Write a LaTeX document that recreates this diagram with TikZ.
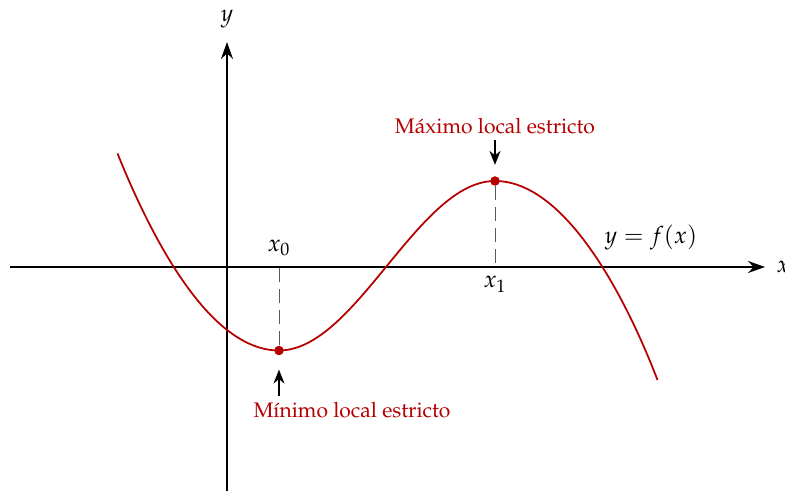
\documentclass[tikz,border=0pt]{standalone}
\usepackage[T1]{fontenc}
\usepackage{mathpazo}
\usetikzlibrary{arrows.meta,positioning,calc}
\definecolor{rojo}{RGB}{180,0,0}
\tikzset{
  eje/.style={-{Stealth[length=3.4mm,width=2.4mm]},line width=1pt},
  curva/.style={rojo,line width=1pt},
  punto/.style={circle,fill=rojo,minimum size=1.9mm,inner sep=0pt},
  guia/.style={gray!70!black,dash pattern=on 2.8mm off 1.4mm,line width=0.5pt},
  flecha/.style={-{Stealth[length=2.8mm,width=2.2mm]},line width=0.9pt},
  rotulo/.style={text=rojo,font=\large},
  mat/.style={font=\fontsize{13.5}{16}\selectfont}
}

\begin{document}
\begin{tikzpicture}[font=\large]
  \useasboundingbox (-4.54,-4.48) rectangle (11.16,5.34);
  % ejes
  \coordinate (xini) at (-4.34,0);
  \coordinate (xfin) at (10.76,0);
  \coordinate (yini) at (0,-4.48);
  \coordinate (yfin) at (0,4.5);
  \draw[eje] (xini) -- (xfin) node[mat,right=0.1cm] (ex) {$x$};
  \draw[eje] (yini) -- (yfin) node[mat,above=0.14cm] (ey) {$y$};
  % curva
  \coordinate (ini) at (-2.19,2.27);
  \coordinate (cmin) at (1.04,-1.67);
  \coordinate (cmax) at (5.36,1.72);
  \coordinate (fin) at (8.61,-2.26);
  \draw[curva] (ini) to[out=-68,in=180,out distance=1.8cm,in distance=1.4cm] (cmin)
    to[out=0,in=180,distance=1.54cm] (cmax)
    to[out=0,in=111,out distance=1.4cm,in distance=1.8cm] (fin);
  % extremos y guias
  \node[punto] (pmin) at (cmin) {};
  \node[punto] (pmax) at (cmax) {};
  \coordinate (a0) at (1.04,0);
  \coordinate (a1) at (5.36,0);
  \draw[guia] (pmin) -- (a0);
  \draw[guia] (pmax) -- (a1);
  \node[mat,above=0.1cm of a0] (lx0) {$x_0$};
  \node[mat,below=0.06cm of a1] (lx1) {$x_1$};
  \node[mat] (lf) at (8.48,0.58) {$y=f(x)$};
  % rotulos
  \node[rotulo] (maxlab) at (5.36,2.82) {Máximo local estricto};
  \node[rotulo] (minlab) at (2.5,-2.86) {Mínimo local estricto};
  \draw[flecha,shorten >=0.22cm] (maxlab.south -| pmax) -- (pmax);
  \draw[flecha,shorten >=0.28cm] (minlab.north -| pmin) -- (pmin);
\end{tikzpicture}
\end{document}
